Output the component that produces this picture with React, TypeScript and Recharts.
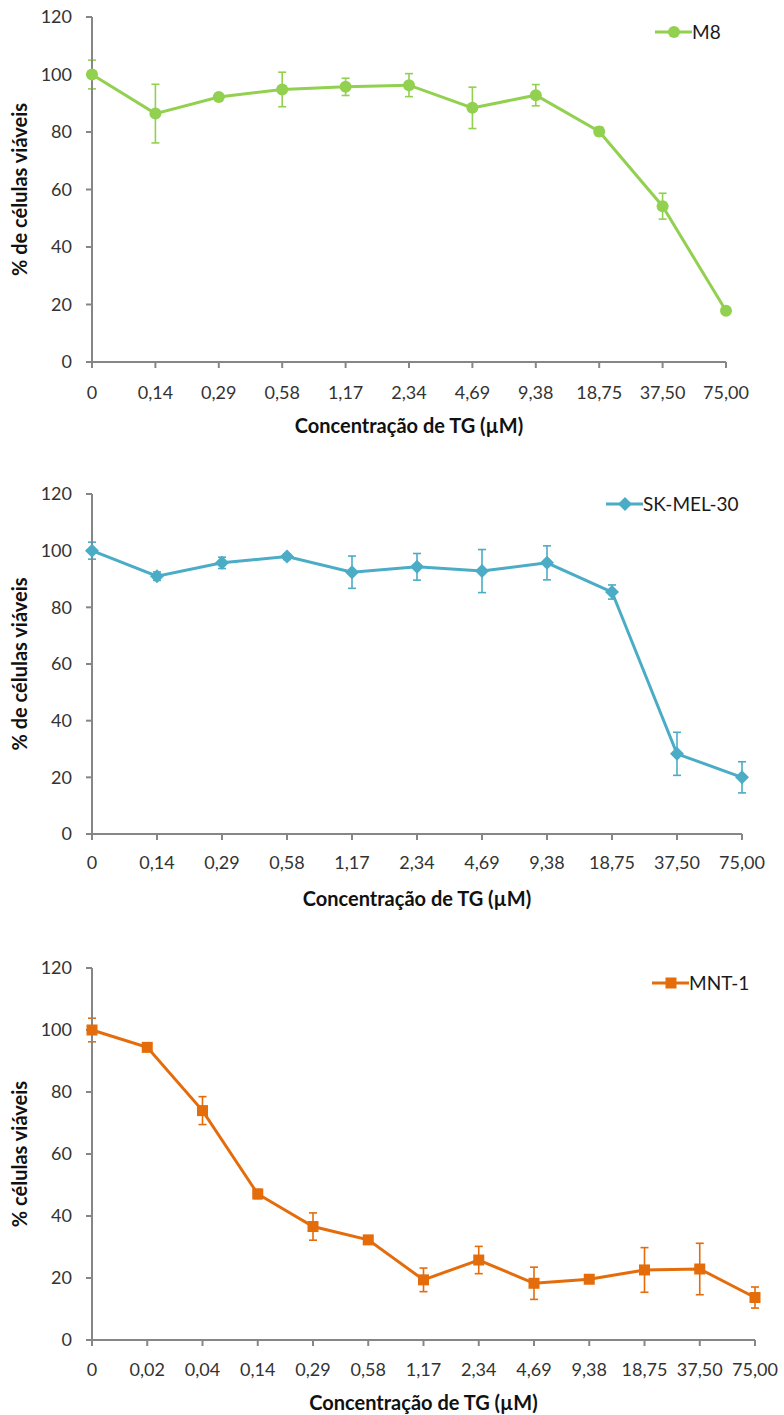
import { LineChart, Line, XAxis, YAxis, ErrorBar, Legend } from 'recharts'

// concentrações de TG (µM) usadas em cada ensaio
const concA = ['0', '0,14', '0,29', '0,58', '1,17', '2,34', '4,69', '9,38', '18,75', '37,50', '75,00']
const concB = ['0', '0,02', '0,04', '0,14', '0,29', '0,58', '1,17', '2,34', '4,69', '9,38', '18,75', '37,50', '75,00']

const m8 = [100, 86.4, 92.2, 94.8, 95.7, 96.3, 88.4, 92.8, 80.2, 54.2, 17.8]
const m8Err = [5, 10.2, 1, 6, 3, 4, 7.2, 3.7, 1.5, 4.5, 1]

const sk = [100, 91.0, 95.7, 97.9, 92.4, 94.3, 92.8, 95.7, 85.4, 28.3, 20.0]
const skErr = [3, 1.5, 2, 1, 5.7, 4.7, 7.6, 6, 2.5, 7.6, 5.5]

const mnt = [100, 94.4, 74.0, 47.1, 36.6, 32.3, 19.4, 25.8, 18.3, 19.6, 22.6, 22.9, 13.7]
const mntErr = [3.8, 1, 4.5, 1.5, 4.4, 1, 3.8, 4.4, 5.2, 1, 7.2, 8.3, 3.4]

const yTicks = [0, 20, 40, 60, 80, 100, 120]

const FONT = 'Lato, "Open Sans", sans-serif'
const AXIS = '#868686'
const TEXT = '#333333'

type Shape = 'circle' | 'diamond' | 'square'

function Marker({ cx, cy, shape, color }: { cx: number; cy: number; shape: Shape; color: string }) {
  if (shape === 'circle') return <circle cx={cx} cy={cy} r={6} fill={color} />
  if (shape === 'diamond')
    return <path d={`M${cx},${cy - 7} L${cx + 7},${cy} L${cx},${cy + 7} L${cx - 7},${cy} Z`} fill={color} />
  return <rect x={cx - 5.5} y={cy - 5.5} width={11} height={11} fill={color} />
}

function LegendItem({ name, shape, color }: { name: string; shape: Shape; color: string }) {
  return (
    <div style={{ display: 'flex', alignItems: 'center', fontFamily: FONT, fontSize: 19, color: '#1a1a1a', whiteSpace: 'nowrap' }}>
      <svg width={37} height={16}>
        <line x1={0} y1={8} x2={37} y2={8} stroke={color} strokeWidth={3} />
        <Marker cx={19} cy={8} shape={shape} color={color} />
      </svg>
      <span style={{ lineHeight: '22px' }}>{name}</span>
    </div>
  )
}

interface PanelProps {
  top: number
  height: number
  cats: string[]
  values: number[]
  errors: number[]
  name: string
  color: string
  shape: Shape
  yTitle: string
  margin: { top: number; right: number }
  xAxisHeight: number
  tickGap: number
  titleOffset: number
  legendPos: { top: number; left: number }
}

function Panel(p: PanelProps) {
  const data = p.cats.map((c, i) => ({ c, v: p.values[i], e: p.errors[i] }))
  return (
    <div style={{ position: 'absolute', left: 0, top: p.top }}>
      <LineChart
        width={784}
        height={p.height}
        data={data}
        margin={{ top: p.margin.top, right: p.margin.right, left: 0, bottom: 0 }}
      >
        <XAxis
          dataKey="c"
          interval={0}
          height={p.xAxisHeight}
          stroke={AXIS}
          strokeWidth={2}
          tickSize={6}
          tickMargin={p.tickGap}
          tick={{ fill: TEXT, fontSize: 18, fontFamily: FONT }}
          label={{
            value: 'Concentração de TG (µM)',
            position: 'insideBottom',
            offset: p.titleOffset,
            style: { fill: '#111', fontSize: 20, fontWeight: 700, fontFamily: FONT },
          }}
        />
        <YAxis
          domain={[0, 120]}
          ticks={yTicks}
          width={92}
          stroke={AXIS}
          strokeWidth={2}
          tickSize={6}
          tickMargin={14}
          tick={{ fill: TEXT, fontSize: 18, fontFamily: FONT }}
          label={{
            value: p.yTitle,
            angle: -90,
            position: 'center',
            dx: -26,
            style: { fill: '#111', fontSize: 20, fontWeight: 700, fontFamily: FONT },
          }}
        />
        <Legend
          layout="vertical"
          align="center"
          verticalAlign="middle"
          wrapperStyle={{ top: p.legendPos.top, left: p.legendPos.left, width: 'auto' }}
          content={() => <LegendItem name={p.name} shape={p.shape} color={p.color} />}
        />
        <Line
          dataKey="v"
          name={p.name}
          stroke={p.color}
          strokeWidth={3}
          isAnimationActive={false}
          dot={(d: any) => <Marker key={d.index} cx={d.cx} cy={d.cy} shape={p.shape} color={p.color} />}
          activeDot={false}
        >
          <ErrorBar dataKey="e" direction="y" width={4} stroke={p.color} strokeWidth={1.6} />
        </Line>
      </LineChart>
    </div>
  )
}

export default function App() {
  return (
    <div style={{ position: 'absolute', left: 0, top: 0, width: 784, height: 1415, background: '#fff' }}>
      <Panel
        top={0}
        height={450}
        cats={concA}
        values={m8}
        errors={m8Err}
        name="M8"
        color="#92D050"
        shape="circle"
        yTitle="% de células viáveis"
        margin={{ top: 17, right: 58 }}
        xAxisHeight={88}
        tickGap={18}
        titleOffset={17}
        legendPos={{ top: 21, left: 655 }}
      />
      <Panel
        top={450}
        height={470}
        cats={concA}
        values={sk}
        errors={skErr}
        name="SK-MEL-30"
        color="#4BACC6"
        shape="diamond"
        yTitle="% de células viáveis"
        margin={{ top: 44, right: 42 }}
        xAxisHeight={86}
        tickGap={16}
        titleOffset={14}
        legendPos={{ top: 43, left: 606 }}
      />
      <Panel
        top={920}
        height={495}
        cats={concB}
        values={mnt}
        errors={mntErr}
        name="MNT-1"
        color="#E46C0A"
        shape="square"
        yTitle="% células viáveis"
        margin={{ top: 48, right: 29 }}
        xAxisHeight={75}
        tickGap={17}
        titleOffset={5}
        legendPos={{ top: 52, left: 652 }}
      />
    </div>
  )
}
